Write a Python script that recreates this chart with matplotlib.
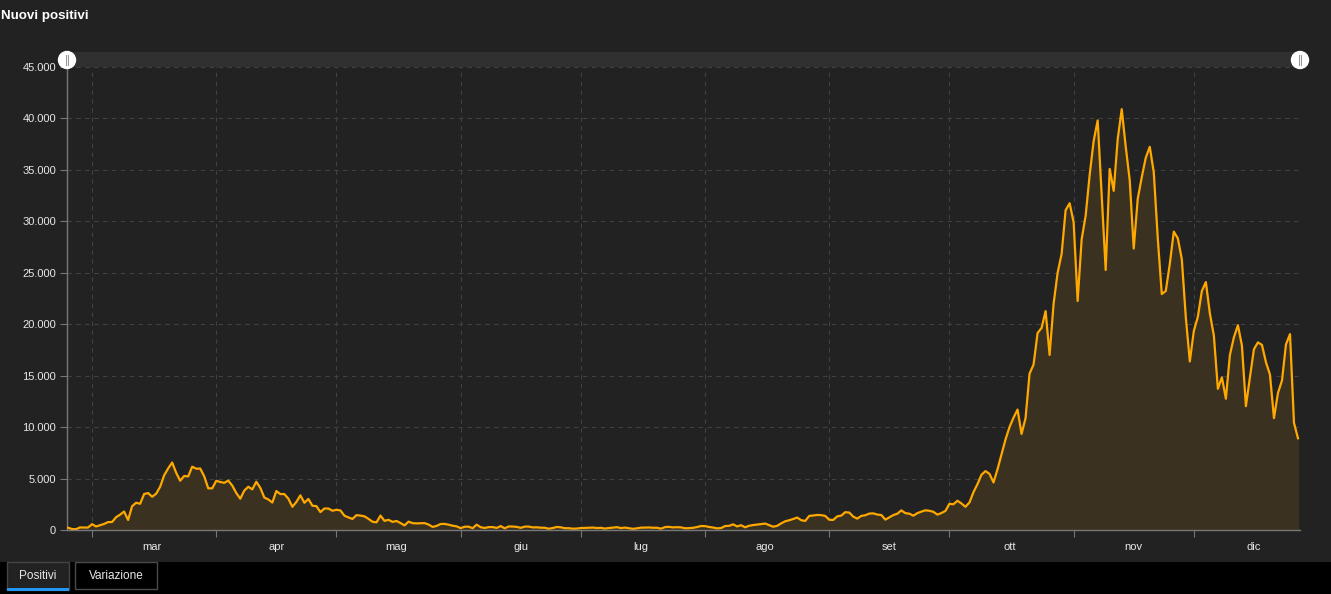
import numpy as np
import pandas as pd
import matplotlib
matplotlib.use("Agg")
import matplotlib.pyplot as plt
from matplotlib.patches import Rectangle, Circle
from matplotlib.ticker import FuncFormatter

plt.rcParams["font.family"] = ["Liberation Sans", "DejaVu Sans"]

# daily new positives, Italy 2020 (24 Feb -> 27 Dec)
feb = [221, 93, 78, 250, 238, 240]
mar = [566, 342, 466, 587, 769, 778, 1247, 1492, 1797, 977,
       2313, 2651, 2547, 3497, 3590, 3233, 3526, 4207, 5322, 5986,
       6557, 5560, 4789, 5249, 5210, 6153, 5959, 5974, 5217, 4050, 4053]
apr = [4782, 4668, 4585, 4805, 4316, 3599, 3039, 3836, 4204, 3951,
       4694, 4092, 3153, 2972, 2667, 3786, 3493, 3491, 3047, 2256,
       2729, 3370, 2646, 3021, 2357, 2324, 1739, 2091, 2086, 1872]
may = [1965, 1900, 1389, 1221, 1075, 1444, 1401, 1327, 1083, 802,
       744, 1402, 888, 992, 789, 875, 675, 451, 813, 665,
       642, 652, 669, 531, 300, 397, 584, 593, 516, 416, 355]
jun = [178, 318, 321, 177, 518, 270, 197, 280, 283, 202,
       379, 163, 346, 338, 301, 210, 329, 333, 251, 262,
       224, 218, 122, 190, 296, 259, 175, 174, 126, 142]
jul = [187, 201, 223, 235, 192, 208, 138, 193, 229, 276,
       188, 234, 169, 114, 163, 230, 233, 249, 219, 218,
       129, 282, 306, 252, 275, 255, 170, 181, 212, 289, 386]
aug = [379, 295, 239, 159, 190, 384, 402, 552, 347, 463,
       259, 412, 481, 523, 574, 629, 479, 320, 403, 642,
       845, 947, 1071, 1210, 953, 878, 1367, 1409, 1462, 1444, 1365]
sep = [996, 978, 1326, 1397, 1733, 1695, 1297, 1108, 1370, 1434,
       1597, 1616, 1501, 1458, 1008, 1229, 1452, 1585, 1907, 1638,
       1587, 1392, 1640, 1786, 1912, 1869, 1766, 1494, 1648, 1851]
oct_ = [2548, 2499, 2844, 2578, 2257, 2677, 3678, 4458, 5372, 5724,
        5456, 4619, 5901, 7332, 8804, 10010, 10925, 11705, 9338, 10874,
        15199, 16079, 19143, 19644, 21273, 17012, 21994, 24991, 26831, 31084, 31756]
nov = [29907, 22253, 28244, 30550, 34505, 37809, 39811, 32616, 25271, 35098,
       32961, 37978, 40902, 37255, 33979, 27354, 32191, 34282, 36176, 37242,
       34767, 28337, 22930, 23232, 25853, 29003, 28352, 26323, 20648, 16377]
dec = [19350, 20709, 23225, 24099, 21052, 18887, 13720, 14842, 12756, 16999,
       18727, 19903, 17938, 12030, 14844, 17572, 18236, 17992, 16308, 15104,
       10872, 13318, 14522, 18040, 19037, 10407, 8913]

values = feb + mar + apr + may + jun + jul + aug + sep + oct_ + nov + dec
dates = pd.date_range("2020-02-24", periods=len(values), freq="D")
month_labels = ["mar", "apr", "mag", "giu", "lug", "ago", "set", "ott", "nov", "dic"]

BG = "#222222"
W, H = 1331, 594

fig = plt.figure(figsize=(W / 100, H / 100), dpi=100, facecolor=BG)
ax = fig.add_axes([67 / W, (H - 530) / H, (1300 - 67) / W, (530 - 67) / H])
ax.set_facecolor(BG)

ax.fill_between(dates, values, 0, color="#3a3121", zorder=2)
ax.plot(dates, values, color="#ffa800", lw=1.6, zorder=3)

ax.set_xlim(dates[0] - pd.Timedelta(hours=6), dates[-1] + pd.Timedelta(hours=12))
ax.set_ylim(0, 45000)
ax.set_yticks(np.arange(0, 45001, 5000))
ax.yaxis.set_major_formatter(FuncFormatter(lambda v, p: f"{int(v):,}".replace(",", ".")))

month_starts = pd.date_range("2020-03-01", "2020-12-01", freq="MS")
mid_months = month_starts + pd.Timedelta(days=15)
ax.set_xticks(month_starts)
ax.set_xticklabels([])
ax.set_xticks(mid_months, minor=True)
ax.set_xticklabels(month_labels, minor=True)
ax.tick_params(axis="x", which="minor", length=0, pad=9, labelsize=8, labelcolor="#e8e8e8")
ax.tick_params(axis="x", which="major", length=5, color="#777777")
ax.tick_params(axis="y", length=5, color="#777777", labelsize=8, labelcolor="#e8e8e8", pad=3)

ax.grid(True, which="major", color="#414141", linestyle=(0, (4, 4)), lw=0.8, zorder=1)
for s in ["top", "right"]:
    ax.spines[s].set_visible(False)
for s in ["left", "bottom"]:
    ax.spines[s].set_color("#777777")
    ax.spines[s].set_linewidth(1)
ax.spines["bottom"].set_zorder(4)

# overlay for the decorations (title, range slider, tabs)
ov = fig.add_axes([0, 0, 1, 1], zorder=10)
ov.set_xlim(0, W)
ov.set_ylim(H, 0)
ov.axis("off")

ov.text(1, 16, "Nuovi positivi", color="white", fontsize=9.6, fontweight="bold",
        va="center", ha="left")

ov.add_patch(Rectangle((67, 52), 1300 - 67, 15, color="#303030", lw=0, zorder=1))
for cx in [67, 1300]:
    ov.add_patch(Circle((cx, 60), 8.5, color="white", zorder=3))
    ov.plot([cx - 1.2, cx - 1.2], [54.5, 64.5], color="#999999", lw=0.8, zorder=4)
    ov.plot([cx + 1.2, cx + 1.2], [54.5, 64.5], color="#999999", lw=0.8, zorder=4)

ov.add_patch(Rectangle((0, 562), W, H - 562, color="black", lw=0, zorder=1))
ov.add_patch(Rectangle((7, 562), 62, 28, facecolor=BG, edgecolor="#444444", lw=1, zorder=2))
ov.add_patch(Rectangle((7, 588), 62, 2.5, color="#2196f3", lw=0, zorder=3))
ov.add_patch(Rectangle((75, 562), 82, 27, facecolor="black", edgecolor="#4a4a4a", lw=1, zorder=2))
ov.text(38, 576, "Positivi", color="#e8e8e8", fontsize=8.5, ha="center", va="center", zorder=4)
ov.text(116, 576, "Variazione", color="#e8e8e8", fontsize=8.5, ha="center", va="center", zorder=4)

fig.savefig("out.png", dpi=100, facecolor=BG)
